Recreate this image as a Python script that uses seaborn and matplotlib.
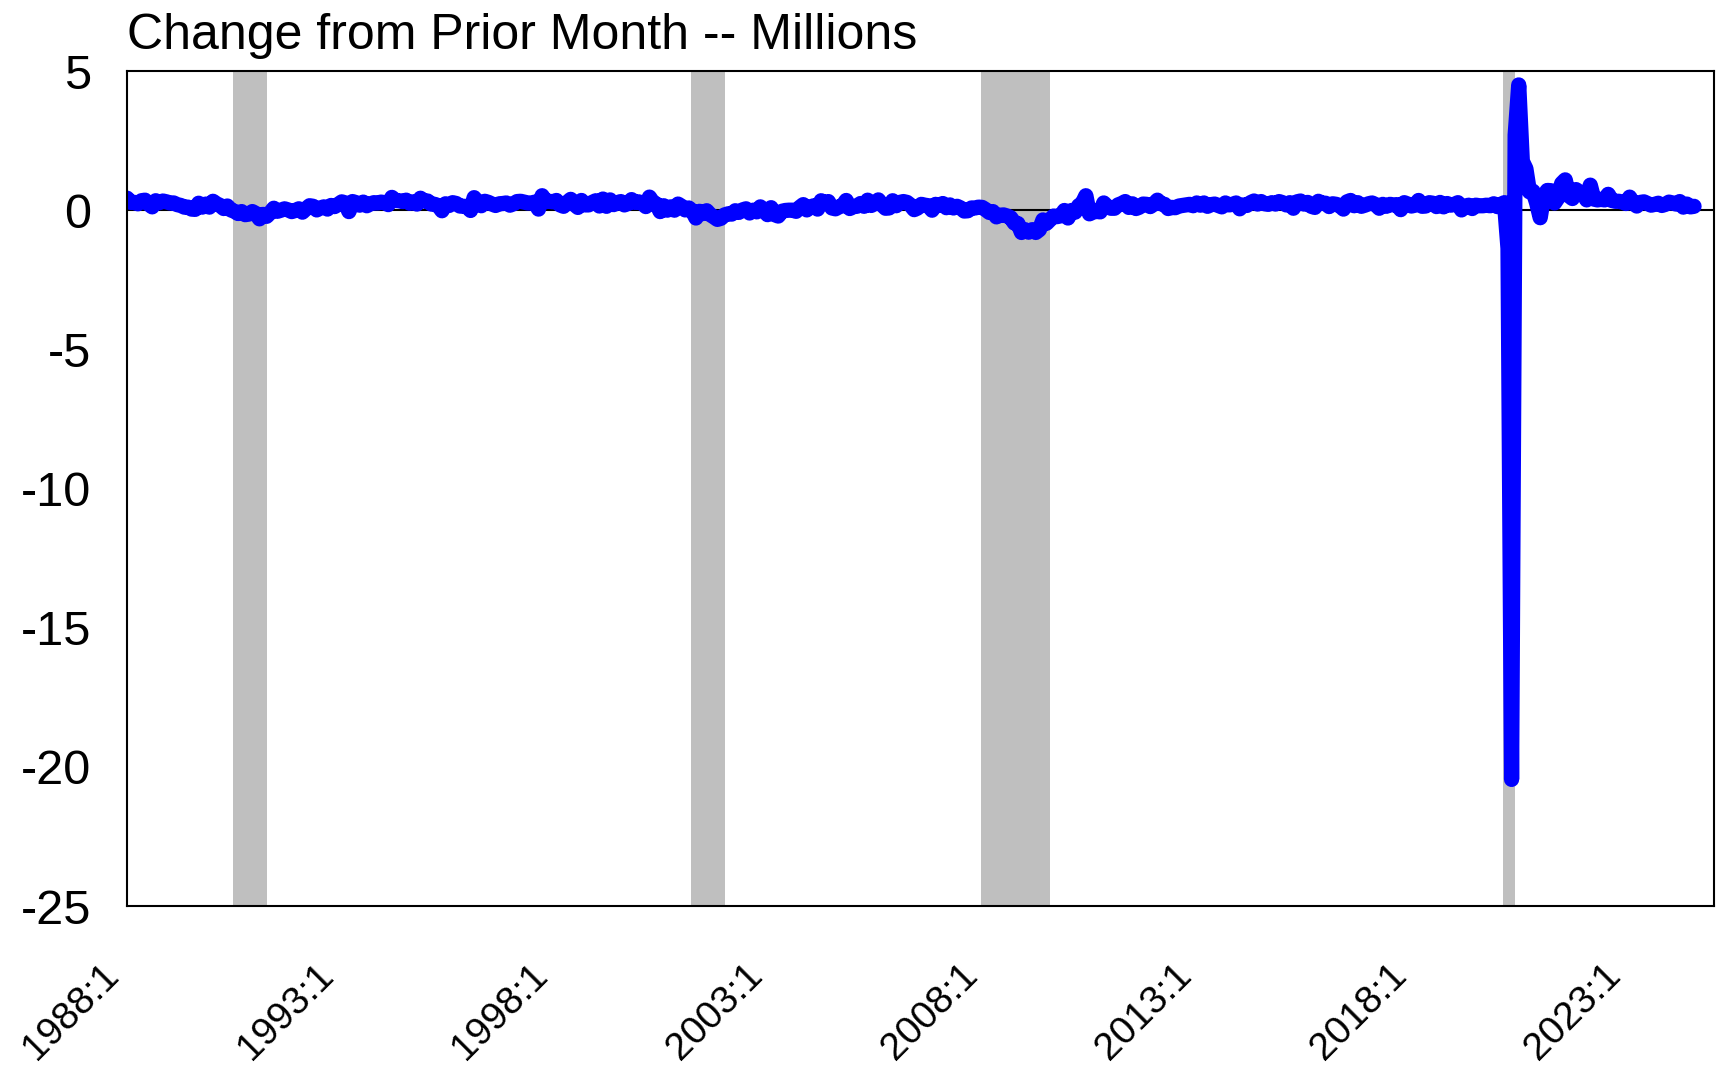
import numpy as np
import pandas as pd
import seaborn as sns
import matplotlib.pyplot as plt
import matplotlib.font_manager as fm
import matplotlib.transforms as mtransforms

# monthly change in payroll employment, millions, 1988:1 onward
chg_1988_1995 = [
    0.43, 0.28, 0.28, 0.23, 0.34, 0.36, 0.22, 0.12, 0.34, 0.27, 0.33, 0.30,
    0.26, 0.26, 0.20, 0.17, 0.11, 0.11, 0.04, 0.03, 0.25, 0.11, 0.22, 0.11,
    0.32, 0.23, 0.17, 0.06, 0.15, 0.01, -0.04, -0.12, -0.05, -0.16, -0.14, -0.05,
    -0.12, -0.31, -0.15, -0.22, -0.09, 0.07, -0.04, 0.00, 0.05, 0.01, -0.05, -0.01,
    0.05, -0.07, 0.05, 0.16, 0.14, 0.01, 0.08, 0.12, 0.04, 0.17, 0.13, 0.21,
    0.30, 0.26, -0.05, 0.31, 0.27, 0.18, 0.29, 0.16, 0.23, 0.27, 0.26, 0.29,
    0.27, 0.20, 0.46, 0.35, 0.34, 0.31, 0.36, 0.25, 0.30, 0.22, 0.43, 0.33,
    0.33, 0.22, 0.21, 0.16, -0.02, 0.23, 0.17, 0.27, 0.24, 0.15, 0.14, 0.13,
]
chg_1996_2003 = [
    -0.01, 0.45, 0.28, 0.16, 0.32, 0.28, 0.22, 0.17, 0.23, 0.24, 0.26, 0.18,
    0.23, 0.31, 0.32, 0.29, 0.26, 0.26, 0.29, 0.04, 0.52, 0.31, 0.32, 0.30,
    0.35, 0.19, 0.14, 0.28, 0.39, 0.21, 0.10, 0.35, 0.19, 0.19, 0.28, 0.34,
    0.15, 0.40, 0.14, 0.37, 0.20, 0.27, 0.31, 0.19, 0.24, 0.38, 0.28, 0.30,
    0.25, 0.13, 0.47, 0.28, 0.22, -0.05, 0.16, 0.00, 0.12, 0.00, 0.22, 0.14,
    0.01, 0.08, -0.03, -0.28, -0.04, -0.12, -0.02, -0.16, -0.24, -0.33, -0.29, -0.17,
    -0.13, -0.14, -0.02, -0.08, 0.01, 0.05, -0.10, 0.00, -0.06, 0.12, 0.01, -0.16,
    0.09, -0.16, -0.21, -0.04, -0.01, 0.00, 0.00, -0.04, 0.10, 0.20, 0.01, 0.12,
]
chg_2004_2011 = [
    0.16, 0.04, 0.34, 0.25, 0.31, 0.08, 0.05, 0.12, 0.16, 0.35, 0.06, 0.13,
    0.14, 0.24, 0.14, 0.36, 0.17, 0.24, 0.37, 0.19, 0.07, 0.08, 0.34, 0.16,
    0.28, 0.31, 0.28, 0.18, 0.02, 0.08, 0.21, 0.18, 0.16, 0.00, 0.21, 0.17,
    0.24, 0.09, 0.19, 0.08, 0.14, 0.08, -0.03, -0.02, 0.08, 0.08, 0.11, 0.10,
    0.02, -0.08, -0.05, -0.24, -0.18, -0.17, -0.21, -0.27, -0.46, -0.48, -0.80, -0.70,
    -0.79, -0.70, -0.80, -0.70, -0.35, -0.47, -0.34, -0.21, -0.23, -0.20, -0.01, -0.28,
    -0.01, -0.07, 0.16, 0.25, 0.52, -0.13, -0.07, -0.04, -0.06, 0.26, 0.13, 0.07,
    0.07, 0.19, 0.24, 0.31, 0.10, 0.23, 0.06, 0.11, 0.22, 0.21, 0.13, 0.22,
]
chg_2012_2019 = [
    0.36, 0.23, 0.21, 0.06, 0.10, 0.09, 0.15, 0.17, 0.19, 0.21, 0.16, 0.26,
    0.18, 0.26, 0.14, 0.20, 0.22, 0.17, 0.12, 0.26, 0.19, 0.21, 0.26, 0.05,
    0.19, 0.17, 0.27, 0.33, 0.22, 0.31, 0.23, 0.21, 0.27, 0.22, 0.31, 0.27,
    0.19, 0.27, 0.07, 0.30, 0.33, 0.22, 0.28, 0.14, 0.10, 0.32, 0.25, 0.25,
    0.13, 0.23, 0.21, 0.16, 0.04, 0.30, 0.35, 0.16, 0.27, 0.14, 0.18, 0.23,
    0.26, 0.20, 0.07, 0.21, 0.14, 0.21, 0.19, 0.20, 0.02, 0.27, 0.22, 0.15,
    0.18, 0.35, 0.14, 0.15, 0.27, 0.25, 0.13, 0.28, 0.12, 0.24, 0.18, 0.21,
    0.27, 0.01, 0.14, 0.18, 0.06, 0.18, 0.16, 0.16, 0.18, 0.16, 0.23, 0.13,
]
chg_2020_2024 = [
    0.21, 0.27, -1.37, -20.45, 2.70, 4.50, 1.76, 1.49, 0.66, 0.68, 0.26, -0.27,
    0.52, 0.71, 0.70, 0.26, 0.45, 0.96, 1.09, 0.52, 0.42, 0.74, 0.65, 0.59,
    0.37, 0.90, 0.40, 0.37, 0.39, 0.37, 0.57, 0.35, 0.32, 0.32, 0.29, 0.24,
    0.47, 0.25, 0.15, 0.28, 0.30, 0.24, 0.18, 0.21, 0.25, 0.17, 0.21, 0.29,
    0.26, 0.22, 0.31, 0.11, 0.22, 0.12, 0.14,
]

# recessions as (first month, last month) counted from 1988:1
rec_start = [30, 158, 239, 385]
rec_end = [38, 166, 257, 387]

tick_labels = ["1988:1", "1993:1", "1998:1", "2003:1", "2008:1", "2013:1", "2018:1", "2023:1"]

values = chg_1988_1995 + chg_1996_2003 + chg_2004_2011 + chg_2012_2019 + chg_2020_2024
df = pd.DataFrame({"month": np.arange(len(values)), "change": values})

sns.set_style("white")
plt.rcParams['font.family'] = ['Liberation Sans', 'DejaVu Sans']
plt.rcParams['axes.unicode_minus'] = False

# date labels in the original look like a narrow Arial
installed = {f.name for f in fm.fontManager.ttflist}
if "Liberation Sans Narrow" in installed:
    xfam, xsize = "Liberation Sans Narrow", 33
else:
    xfam, xsize = "Liberation Sans", 28

fig = plt.figure(figsize=(17.18, 10.73), dpi=100)
ax = fig.add_axes([0.074, 0.1556, 0.9235, 0.7782])

for s, e in zip(rec_start, rec_end):
    ax.axvspan(s - 0.3, e + 1, color="#bfbfbf", lw=0, zorder=0)

ax.axhline(0, color="black", lw=1.5, zorder=1)
sns.lineplot(data=df, x="month", y="change", ax=ax, color="#0000ff", lw=11,
             solid_capstyle="round", solid_joinstyle="round", zorder=2)

ax.set_xlim(0, 443.5)
ax.set_ylim(-25, 5)
ax.set_yticks([5, 0, -5, -10, -15, -20, -25])
ax.set_xticks(range(0, 421, 60))
ax.set_xticklabels(tick_labels, rotation=45, ha="right", va="baseline",
                   rotation_mode="anchor", fontsize=xsize, family=xfam)
ax.tick_params(axis="both", length=0, colors="black")
ax.tick_params(axis="y", pad=26, labelsize=35)
ax.tick_params(axis="x", pad=51)
# nudge the date labels a little left of their ticks
shift = mtransforms.ScaledTranslation(-5 / 72, 0, fig.dpi_scale_trans)
for lab in ax.get_xticklabels():
    lab.set_transform(lab.get_transform() + shift)
ax.set_xlabel("")
ax.set_ylabel("")
for sp in ax.spines.values():
    sp.set_color("black")
    sp.set_linewidth(1.5)

ax.set_title("Change from Prior Month -- Millions", loc="left", fontsize=36,
             pad=16, color="black")

plt.savefig("out.png", dpi=100)
